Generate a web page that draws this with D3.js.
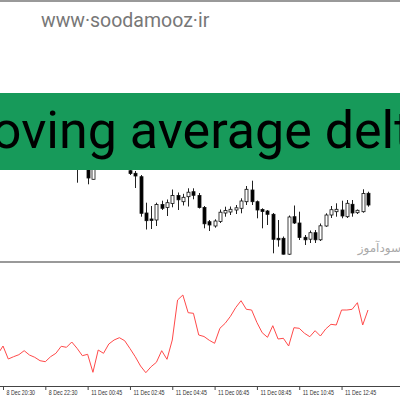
<!DOCTYPE html>
<html>
<head>
<meta charset="utf-8">
<script src="https://cdn.jsdelivr.net/npm/d3@7"></script>
<style>
  html, body { margin: 0; padding: 0; background: #fff; }
  svg { display: block; }
</style>
</head>
<body>
<div id="chart"></div>
<script>
// bar index of each candle (hidden bars behind the banner are left out)
const candleIndex = [14, 16, 17, 24, 25, 26, 27, 28, 29, 30, 31, 32, 33, 34, 35, 36, 37, 38, 39, 40, 41, 42, 43, 44, 45, 46, 47, 48, 49, 50, 51, 52, 53, 54, 55, 56, 57, 58, 59, 60, 61, 62, 63, 64, 65, 66, 67, 68, 69];
const opens  = [98, 100, 83.7, 92.3, 89.7, 86.3, 50, 44, 43, 58.5, 55.5, 59.5, 67.5, 61.3, 66.3, 71.3, 67.5, 55.5, 41.3, 37, 41.5, 50, 51, 53, 54.7, 61.3, 73, 61.3, 53.5, 52, 48.7, 24.7, 24.7, 8.8, 46.3, 40, 25.7, 23.8, 30.3, 23.2, 37, 48, 51.3, 53, 46.3, 58.7, 50.3, 51.3, 69.7];
const highs  = [106, 104, 102, 95, 92, 88, 60.3, 57, 60.3, 62.3, 63.5, 73.5, 70.5, 69.2, 74.7, 74.7, 70, 57, 43, 43.7, 53.5, 56.3, 56.5, 58, 64.7, 77, 82.3, 62.5, 54.7, 53, 50, 43, 26.5, 47.5, 57.5, 51.3, 28, 32.5, 33, 39.5, 49.7, 57, 59.7, 62.3, 63, 63, 53.5, 73.7, 71.3];
const lows   = [80.3, 78.7, 83.5, 88, 75, 46.3, 33.5, 34, 37, 53, 47, 55.7, 53, 57.5, 56.5, 63.7, 54.5, 34.7, 32, 35.3, 40, 46.3, 48, 49, 49.7, 58, 58, 44.7, 34.7, 38, 9.7, 16.3, 8.5, 8.2, 39, 23, 18, 20, 20, 22, 36.2, 45, 46.3, 44.7, 45, 46.3, 49, 50.3, 56.3];
const closes = [103, 85, 98, 89.5, 87, 49.7, 42.3, 42.5, 58.5, 54.7, 60.3, 67.5, 63.2, 65.7, 70.8, 67.7, 55.5, 39.2, 38, 42, 50.8, 52.5, 53.7, 55.2, 62, 73.7, 61.3, 53, 51.5, 48.7, 23.7, 23.2, 8.8, 46, 40, 25.5, 23.2, 30.3, 23.2, 37.2, 48, 53.3, 53.7, 47, 59.7, 50, 52.7, 69.5, 58];

// moving average delta, bars -1 .. 69
const deltaStart = -1;
const deltaValues = [30.7, 39, 26, 28.3, 30.3, 34.3, 30, 27.7, 24.3, 23.3, 28.3, 31.7, 38.7, 37.7, 43, 36.7, 29.3, 30.7, 12.7, 35, 31.7, 41, 45, 47.3, 44.3, 36.5, 28.3, 19, 12.3, 18.3, 22.7, 34.3, 25.7, 45, 85, 90, 72.3, 71.7, 50, 48.5, 44.7, 41.7, 56.7, 61.7, 68.7, 77.5, 84.3, 75.7, 75, 62.5, 52.3, 47.7, 59.3, 46, 46.7, 39, 57.3, 56.7, 51.7, 48.3, 54.3, 49, 56, 60.7, 60, 75, 75, 75.7, 82.3, 60, 75];

const tickIndex = [0, 8, 16, 24, 32, 40, 48, 56, 64];
const tickLabels = ['8 Dec 20:30', '8 Dec 22:30', '11 Dec 00:45', '11 Dec 02:45', '11 Dec 04:45', '11 Dec 06:45', '11 Dec 08:45', '11 Dec 10:45', '11 Dec 12:45'];

const width = 400;
const height = 400;

const svg = d3.select('#chart').append('svg')
  .attr('width', width)
  .attr('height', height);

svg.append('rect').attr('width', width).attr('height', height).attr('fill', '#fff');

const x = d3.scaleLinear().domain([0, 69]).range([3, 368]);
const yPrice = d3.scaleLinear().domain([0, 170]).range([263, 93]);
const yDelta = d3.scaleLinear().domain([0, 120]).range([385, 265]);

// top frame line
svg.append('line')
  .attr('x1', 0).attr('x2', width).attr('y1', 1).attr('y2', 1)
  .attr('stroke', '#777').attr('stroke-width', 1.5);

svg.append('text')
  .attr('x', 41).attr('y', 27)
  .attr('font-family', 'Roboto, sans-serif')
  .attr('font-size', 19.5)
  .attr('fill', '#777')
  .text('www·soodamooz·ir');

// candles
const candles = candleIndex.map((idx, k) => ({
  idx, open: opens[k], high: highs[k], low: lows[k], close: closes[k]
}));

const candleG = svg.append('g');
candleG.selectAll('line')
  .data(candles)
  .join('line')
  .attr('x1', (d) => Math.round(x(d.idx)) + 0.5)
  .attr('x2', (d) => Math.round(x(d.idx)) + 0.5)
  .attr('y1', (d) => yPrice(d.high))
  .attr('y2', (d) => yPrice(d.low))
  .attr('stroke', '#222')
  .attr('stroke-width', 1);

candleG.selectAll('rect')
  .data(candles)
  .join('rect')
  .attr('x', (d) => Math.round(x(d.idx)) - 1)
  .attr('width', 3)
  .attr('y', (d) => yPrice(Math.max(d.open, d.close)))
  .attr('height', (d) => Math.max(1, Math.abs(yPrice(d.open) - yPrice(d.close))))
  .attr('fill', (d) => (d.close >= d.open ? '#fff' : '#000'))
  .attr('stroke', '#111')
  .attr('stroke-width', 0.8);

// watermark
svg.append('text')
  .attr('x', 401).attr('y', 252)
  .attr('text-anchor', 'end')
  .attr('font-family', '"Noto Sans", "DejaVu Sans", sans-serif')
  .attr('font-size', 12)
  .attr('fill', '#aaa')
  .text('سودآموز');

// panel separator
svg.append('line')
  .attr('x1', 0).attr('x2', width).attr('y1', 262).attr('y2', 262)
  .attr('stroke', '#999').attr('stroke-width', 2);

// delta line
const deltaPoints = deltaValues.map((v, k) => ({ idx: deltaStart + k, v }));
svg.append('path')
  .datum(deltaPoints)
  .attr('fill', 'none')
  .attr('stroke', '#ff4a4a')
  .attr('stroke-width', 1)
  .attr('d', d3.line().x((d) => x(d.idx)).y((d) => yDelta(d.v)));

// time axis
const axisG = svg.append('g')
  .attr('transform', 'translate(0,386)')
  .call(d3.axisBottom(x)
    .tickValues(tickIndex)
    .tickFormat((d, k) => tickLabels[k])
    .tickSize(4)
    .tickSizeOuter(0));
axisG.select('.domain').remove();
axisG.append('line')
  .attr('x1', 0).attr('x2', width).attr('y1', 0.5).attr('y2', 0.5)
  .attr('stroke', '#444');
axisG.selectAll('.tick line').attr('stroke', '#444');
axisG.selectAll('.tick text')
  .attr('text-anchor', 'start')
  .attr('x', 3)
  .attr('y', 5.7)
  .attr('dy', null)
  .attr('transform', 'scale(1,1.5)')
  .attr('font-family', '"Liberation Sans", Arial, sans-serif')
  .attr('font-size', 5.3)
  .attr('fill', '#333');

// title banner
svg.append('rect')
  .attr('x', 0).attr('y', 93).attr('width', width).attr('height', 77)
  .attr('fill', '#179a5a');
svg.append('text')
  .attr('x', 193).attr('y', 148)
  .attr('text-anchor', 'middle')
  .attr('font-family', 'Roboto, sans-serif')
  .attr('font-size', 52)
  .attr('fill', '#000')
  .text('Moving average delta');
</script>
</body>
</html>
